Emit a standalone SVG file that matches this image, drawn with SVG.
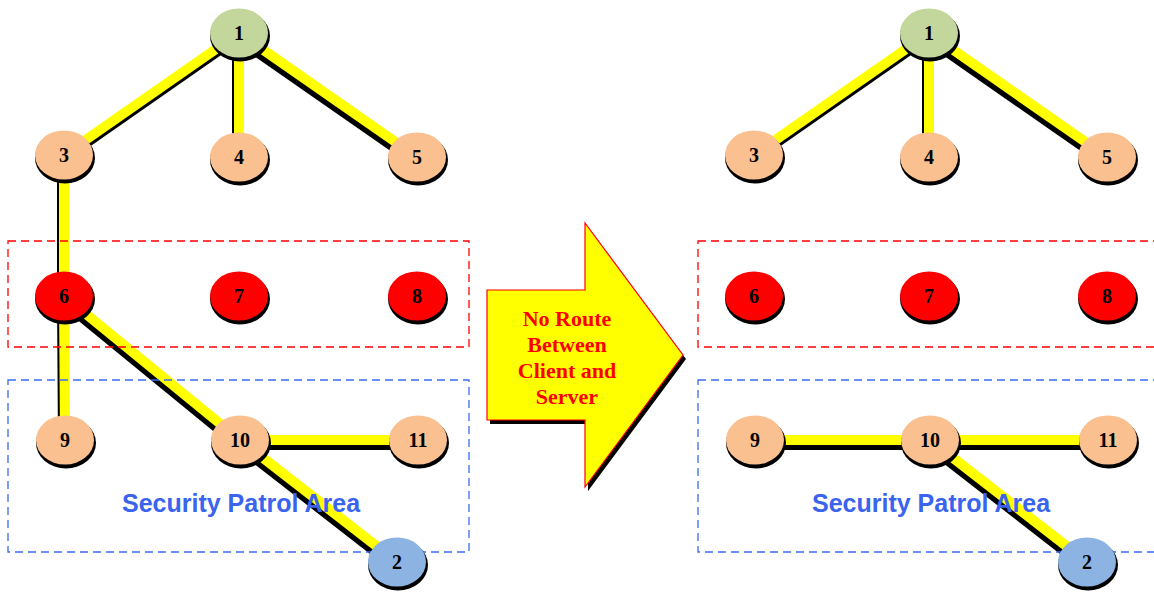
<svg xmlns="http://www.w3.org/2000/svg" width="1154" height="592" viewBox="0 0 1154 592">
  <defs>
    <style>
      .edge-s { stroke: #000; stroke-width: 10; fill: none; }
      .edge { stroke: #ffff00; stroke-width: 10; fill: none; }
      .shadow { fill: #000; }
      .green { fill: #c3d69b; }
      .peach { fill: #fac090; }
      .red { fill: #ff0000; }
      .blue { fill: #8db3e2; }
      .lbl { font-family: "Liberation Serif", serif; font-weight: bold; font-size: 20px; fill: #000; text-anchor: middle; }
      .zone-r { fill: none; stroke: #ff0000; stroke-width: 1.3; stroke-dasharray: 8 5; }
      .zone-b { fill: none; stroke: #3a6cf0; stroke-width: 1.3; stroke-dasharray: 8 5; }
      .zone-t { font-family: "Liberation Sans", sans-serif; font-weight: bold; font-size: 25px; fill: #3a63ee; text-anchor: middle; }
      .arrow-t { font-family: "Liberation Serif", serif; font-weight: bold; font-size: 22px; fill: #ff0000; text-anchor: middle; }
    </style>
    <g id="nd">
      <ellipse cx="1" cy="3" rx="30" ry="25.5" class="shadow"/>
    </g>
  </defs>

  <!-- connectors: black drop shadow first, yellow link on top -->
  <g id="connectors">
    <g transform="translate(-2,5)" class="edge-s">
      <line x1="239" y1="33" x2="64" y2="155"/>
      <line x1="239" y1="33" x2="239" y2="157"/>
      <line x1="239" y1="33" x2="417" y2="157"/>
      <line x1="64" y1="155" x2="64" y2="296"/>
      <line x1="64" y1="296" x2="65" y2="440"/>
      <line x1="64" y1="296" x2="240" y2="440"/>
      <line x1="240" y1="440" x2="418" y2="440"/>
      <line x1="240" y1="440" x2="397" y2="562"/>
      <line x1="929" y1="33" x2="754" y2="155"/>
      <line x1="929" y1="33" x2="929" y2="157"/>
      <line x1="929" y1="33" x2="1107" y2="157"/>
      <line x1="755" y1="440" x2="930" y2="440"/>
      <line x1="930" y1="440" x2="1108" y2="440"/>
      <line x1="930" y1="440" x2="1087" y2="562"/>
    </g>
    <g class="edge">
      <line x1="239" y1="33" x2="64" y2="155"/>
      <line x1="239" y1="33" x2="239" y2="157"/>
      <line x1="239" y1="33" x2="417" y2="157"/>
      <line x1="64" y1="155" x2="64" y2="296"/>
      <line x1="64" y1="296" x2="65" y2="440"/>
      <line x1="64" y1="296" x2="240" y2="440"/>
      <line x1="240" y1="440" x2="418" y2="440"/>
      <line x1="240" y1="440" x2="397" y2="562"/>
      <line x1="929" y1="33" x2="754" y2="155"/>
      <line x1="929" y1="33" x2="929" y2="157"/>
      <line x1="929" y1="33" x2="1107" y2="157"/>
      <line x1="755" y1="440" x2="930" y2="440"/>
      <line x1="930" y1="440" x2="1108" y2="440"/>
      <line x1="930" y1="440" x2="1087" y2="562"/>
    </g>
  </g>

  <!-- zones -->
  <g id="zones">
    <rect x="8" y="241" width="461" height="106" class="zone-r"/>
    <rect x="8" y="380" width="461" height="172" class="zone-b"/>
    <rect x="698" y="241" width="461" height="106" class="zone-r"/>
    <rect x="698" y="380" width="461" height="172" class="zone-b"/>
    <text x="241" y="512" class="zone-t">Security Patrol Area</text>
    <text x="931" y="512" class="zone-t">Security Patrol Area</text>
  </g>

  <!-- left network nodes -->
  <g id="n1"><use href="#nd" x="239" y="33"/><ellipse cx="239" cy="33" rx="29" ry="24.5" class="green"/><text x="239" y="40" class="lbl">1</text></g>
  <g id="n3"><use href="#nd" x="64" y="155"/><ellipse cx="64" cy="155" rx="29" ry="24.5" class="peach"/><text x="64" y="162" class="lbl">3</text></g>
  <g id="n4"><use href="#nd" x="239" y="157"/><ellipse cx="239" cy="157" rx="29" ry="24.5" class="peach"/><text x="239" y="164" class="lbl">4</text></g>
  <g id="n5"><use href="#nd" x="417" y="157"/><ellipse cx="417" cy="157" rx="29" ry="24.5" class="peach"/><text x="417" y="164" class="lbl">5</text></g>
  <g id="n6"><use href="#nd" x="64" y="296"/><ellipse cx="64" cy="296" rx="29" ry="24.5" class="red"/><text x="64" y="303" class="lbl">6</text></g>
  <g id="n7"><use href="#nd" x="239" y="296"/><ellipse cx="239" cy="296" rx="29" ry="24.5" class="red"/><text x="239" y="303" class="lbl">7</text></g>
  <g id="n8"><use href="#nd" x="417" y="296"/><ellipse cx="417" cy="296" rx="29" ry="24.5" class="red"/><text x="417" y="303" class="lbl">8</text></g>
  <g id="n9"><use href="#nd" x="65" y="440"/><ellipse cx="65" cy="440" rx="29" ry="24.5" class="peach"/><text x="65" y="447" class="lbl">9</text></g>
  <g id="n10"><use href="#nd" x="240" y="440"/><ellipse cx="240" cy="440" rx="29" ry="24.5" class="peach"/><text x="240" y="447" class="lbl">10</text></g>
  <g id="n11"><use href="#nd" x="418" y="440"/><ellipse cx="418" cy="440" rx="29" ry="24.5" class="peach"/><text x="418" y="447" class="lbl">11</text></g>
  <g id="n2"><use href="#nd" x="397" y="562"/><ellipse cx="397" cy="562" rx="29" ry="24.5" class="blue"/><text x="397" y="569" class="lbl">2</text></g>

  <!-- right network nodes -->
  <g id="m1"><use href="#nd" x="929" y="33"/><ellipse cx="929" cy="33" rx="29" ry="24.5" class="green"/><text x="929" y="40" class="lbl">1</text></g>
  <g id="m3"><use href="#nd" x="754" y="155"/><ellipse cx="754" cy="155" rx="29" ry="24.5" class="peach"/><text x="754" y="162" class="lbl">3</text></g>
  <g id="m4"><use href="#nd" x="929" y="157"/><ellipse cx="929" cy="157" rx="29" ry="24.5" class="peach"/><text x="929" y="164" class="lbl">4</text></g>
  <g id="m5"><use href="#nd" x="1107" y="157"/><ellipse cx="1107" cy="157" rx="29" ry="24.5" class="peach"/><text x="1107" y="164" class="lbl">5</text></g>
  <g id="m6"><use href="#nd" x="754" y="296"/><ellipse cx="754" cy="296" rx="29" ry="24.5" class="red"/><text x="754" y="303" class="lbl">6</text></g>
  <g id="m7"><use href="#nd" x="929" y="296"/><ellipse cx="929" cy="296" rx="29" ry="24.5" class="red"/><text x="929" y="303" class="lbl">7</text></g>
  <g id="m8"><use href="#nd" x="1107" y="296"/><ellipse cx="1107" cy="296" rx="29" ry="24.5" class="red"/><text x="1107" y="303" class="lbl">8</text></g>
  <g id="m9"><use href="#nd" x="755" y="440"/><ellipse cx="755" cy="440" rx="29" ry="24.5" class="peach"/><text x="755" y="447" class="lbl">9</text></g>
  <g id="m10"><use href="#nd" x="930" y="440"/><ellipse cx="930" cy="440" rx="29" ry="24.5" class="peach"/><text x="930" y="447" class="lbl">10</text></g>
  <g id="m11"><use href="#nd" x="1108" y="440"/><ellipse cx="1108" cy="440" rx="29" ry="24.5" class="peach"/><text x="1108" y="447" class="lbl">11</text></g>
  <g id="m2"><use href="#nd" x="1087" y="562"/><ellipse cx="1087" cy="562" rx="29" ry="24.5" class="blue"/><text x="1087" y="569" class="lbl">2</text></g>

  <!-- transition arrow -->
  <g id="arrow">
    <polygon points="490,294 588,294 588,227 686,359 588,491 588,424 490,424" fill="#000"/>
    <polygon points="487,290 585,290 585,223 683,355 585,487 585,420 487,420" fill="#ffff00" stroke="#ff0000" stroke-width="1.2" stroke-linejoin="miter"/>
    <text x="567" y="326" class="arrow-t">No Route</text>
    <text x="567" y="352" class="arrow-t">Between</text>
    <text x="567" y="378" class="arrow-t">Client and</text>
    <text x="567" y="404" class="arrow-t">Server</text>
  </g>
</svg>
